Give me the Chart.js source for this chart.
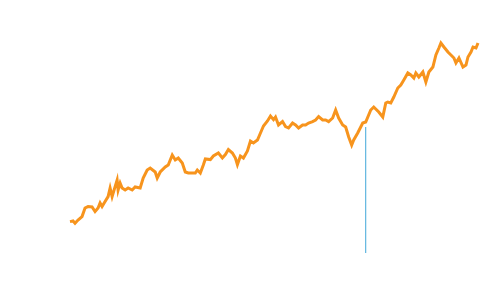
<!DOCTYPE html>
<html>
<head>
<meta charset="utf-8">
<script src="https://cdn.jsdelivr.net/npm/chart.js@4/dist/chart.umd.min.js"></script>
<style>
  html, body { margin: 0; padding: 0; background: #fff; }
  #wrap { width: 500px; height: 300px; }
</style>
</head>
<body>
<div id="wrap"><canvas id="priceChart" width="500" height="300"></canvas></div>
<script>
// --- Data ---
const days = [
    0, 3, 5, 8, 12, 15, 18, 22, 25, 28, 30, 32, 35, 38, 40, 42, 45, 47, 48, 50,
    52, 55, 58, 62, 65, 70, 73, 77, 80, 85, 87, 90, 95, 98, 102, 105, 108, 112, 115, 118,
    122, 125, 127, 130, 133, 135, 140, 143, 148, 152, 155, 158, 162, 165, 167, 170, 173, 177, 180, 183,
    187, 190, 193, 197, 200, 203, 205, 208, 212, 215, 218, 222, 225, 228, 232, 235, 238, 242, 245, 248,
    252, 255, 258, 262, 265, 268, 272, 275, 278, 281, 283, 287, 292, 295, 300, 303, 308, 312, 315, 317,
    320, 323, 327, 330, 333, 337, 340, 343, 345, 348, 352, 355, 358, 362, 365, 368, 370, 373, 377, 380,
    383, 385, 388, 392, 395, 397, 400, 402, 405, 407
];
const prices = [
    15.7, 16, 14.9, 16.5, 18.2, 22.5, 23.2, 23, 20.7, 22.5, 25, 23.2, 25.7, 28.2, 32.5, 28.2, 33.2, 36.5, 31.5, 35,
    32.5, 31.5, 32.5, 31.5, 33, 32.5, 37.5, 41.5, 42.5, 40.5, 37.5, 40.5, 43, 44, 49, 46.5, 47.5, 45, 40.5, 40,
    40, 40, 41.5, 40, 44, 47, 46.7, 48.5, 50, 47.5, 49.2, 51.7, 50, 47.5, 44.2, 48.5, 47.5, 51, 56, 55,
    56.5, 60, 63.5, 66, 68.5, 66.7, 68, 64, 65.7, 63.2, 62.5, 65, 64, 62.5, 64, 64, 65, 65.7, 66.5, 68.2,
    66.5, 66.5, 65.7, 67.5, 71.5, 67.5, 64, 63, 58, 54, 56.5, 60, 65, 65.5, 71.5, 73, 70.5, 68, 75, 75.5,
    75, 78, 82.5, 84, 86.5, 90, 89, 87.5, 90, 88, 90.5, 85.5, 90.5, 93, 99, 102.5, 105, 103, 100.5, 99,
    97.5, 95, 97.5, 93, 94, 98, 100.5, 103, 102.5, 105
];
// vertical marker
const markerDay = 295;
const markerRange = [0, 63];

const points = days.map((d, i) => ({ x: d, y: prices[i] }));
const marker = markerRange.map(v => ({ x: markerDay, y: v }));

const ctx = document.getElementById('priceChart').getContext('2d');
new Chart(ctx, {
    type: 'line',
    data: {
        datasets: [
            {
                label: 'Marker',
                data: marker,
                borderColor: '#3fa7d9',
                borderWidth: 1,
                pointRadius: 0,
                fill: false
            },
            {
                label: 'Price',
                data: points,
                borderColor: '#f7941d',
                borderWidth: 3,
                pointRadius: 0,
                tension: 0,
                fill: false,
                clip: false
            }
        ]
    },
    options: {
        responsive: false,
        animation: false,
        layout: { padding: { left: 70, right: 22, top: 43, bottom: 47 } },
        plugins: { legend: { display: false }, tooltip: { enabled: false } },
        scales: {
            x: { type: 'linear', min: 0, max: 407, display: false },
            y: { min: 0, max: 105, display: false }
        }
    }
});
</script>
</body>
</html>
